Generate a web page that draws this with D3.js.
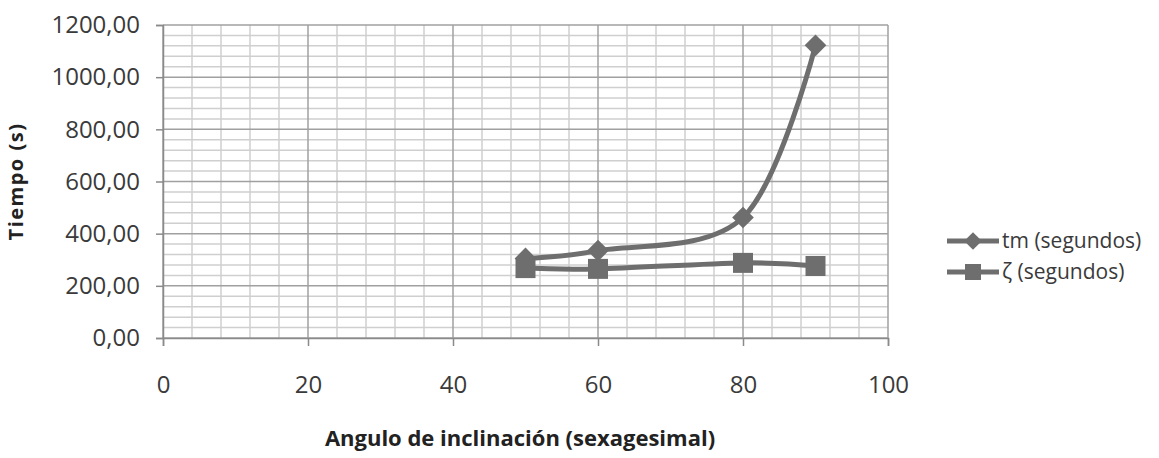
<!DOCTYPE html>
<html>
<head>
<meta charset="utf-8">
<script src="https://cdn.jsdelivr.net/npm/d3@7"></script>
<style>
  body { margin: 0; background: #fff; }
  svg { display: block; font-family: "Open Sans", sans-serif; }
</style>
</head>
<body>
<svg id="chart" width="1159" height="458"></svg>
<script>
// data
const angles = [50, 60, 80, 90];
const tm = [305, 335, 462, 1122];
const zeta = [268, 265, 288, 276];
const seriesNames = ["tm (segundos)", "ζ (segundos)"];
const yTicks = [0, 200, 400, 600, 800, 1000, 1200];
const xTicks = [0, 20, 40, 60, 80, 100];

const svg = d3.select("#chart");
const x = d3.scaleLinear().domain([0, 100]).range([163, 888]);
const y = d3.scaleLinear().domain([0, 1200]).range([338, 25]);
const lineColor = "#6e6e6e";

// grid: minor first, then major
const grid = svg.append("g").attr("id", "grid");
grid.selectAll("line.vminor")
  .data(d3.range(0, 101, 4).filter(d => d % 20 !== 0))
  .join("line")
  .attr("x1", d => x(d)).attr("x2", d => x(d))
  .attr("y1", y(0)).attr("y2", y(1200))
  .attr("stroke", "#cfcfcf").attr("stroke-width", 1.5);
grid.selectAll("line.hminor")
  .data(d3.range(0, 1201, 40).filter(d => d % 200 !== 0))
  .join("line")
  .attr("x1", x(0)).attr("x2", x(100))
  .attr("y1", d => y(d)).attr("y2", d => y(d))
  .attr("stroke", "#cfcfcf").attr("stroke-width", 1.5);
grid.selectAll("line.vmajor")
  .data(xTicks)
  .join("line")
  .attr("x1", d => x(d)).attr("x2", d => x(d))
  .attr("y1", y(0)).attr("y2", y(1200))
  .attr("stroke", "#a0a0a0").attr("stroke-width", 1.5);
grid.selectAll("line.hmajor")
  .data(yTicks)
  .join("line")
  .attr("x1", x(0)).attr("x2", x(100))
  .attr("y1", d => y(d)).attr("y2", d => y(d))
  .attr("stroke", "#a0a0a0").attr("stroke-width", 1.5);

// axes
const fmt = d => d3.format(".2f")(d).replace(".", ",");
const yAxis = svg.append("g")
  .attr("transform", `translate(${x(0)},0)`)
  .call(d3.axisLeft(y).tickValues(yTicks).tickFormat(fmt).tickSize(7).tickPadding(16));
const xAxis = svg.append("g")
  .attr("transform", `translate(0,${y(0)})`)
  .call(d3.axisBottom(x).tickValues(xTicks).tickSize(8).tickPadding(34));
[yAxis, xAxis].forEach(a => {
  a.select(".domain").attr("stroke", "#8a8a8a").attr("stroke-width", 1.5);
  a.selectAll(".tick line").attr("stroke", "#8a8a8a").attr("stroke-width", 1.5);
  a.selectAll("text").attr("fill", "#3a3a3a").style("font-size", "24px")
    .style("font-family", "'Open Sans', sans-serif");
});
xAxis.selectAll("text").attr("dy", "0.55em");

// axis titles
svg.append("text")
  .attr("transform", `translate(23,${(y(0) + y(1200)) / 2}) rotate(-90)`)
  .attr("text-anchor", "middle")
  .attr("fill", "#222").style("font-size", "20px").style("font-weight", "bold")
  .style("letter-spacing", "1.5px")
  .text("Tiempo (s)");
svg.append("text")
  .attr("x", 520).attr("y", 446)
  .attr("text-anchor", "middle")
  .attr("fill", "#222").style("font-size", "22px").style("font-weight", "bold")
  .text("Angulo de inclinación (sexagesimal)");

// series
const line = d3.line()
  .x((d, i) => x(angles[i]))
  .y(d => y(d))
  .curve(d3.curveCardinal.tension(0));

const diamond = d3.symbol().type(d3.symbolDiamond2).size(300);
const square = d3.symbol().type(d3.symbolSquare).size(400);

svg.append("path").datum(tm)
  .attr("d", line).attr("fill", "none")
  .attr("stroke", lineColor).attr("stroke-width", 5);
svg.append("path").datum(zeta)
  .attr("d", line).attr("fill", "none")
  .attr("stroke", lineColor).attr("stroke-width", 5);

svg.append("g").selectAll("path")
  .data(tm).join("path")
  .attr("transform", (d, i) => `translate(${x(angles[i])},${y(d)})`)
  .attr("d", diamond).attr("fill", lineColor);
svg.append("g").selectAll("path")
  .data(zeta).join("path")
  .attr("transform", (d, i) => `translate(${x(angles[i])},${y(d)})`)
  .attr("d", square).attr("fill", lineColor);

// legend
const legend = svg.append("g").attr("id", "legend");
const legY = [241, 272];
const legSyms = [d3.symbol().type(d3.symbolDiamond2).size(200), d3.symbol().type(d3.symbolSquare).size(256)];
seriesNames.forEach((name, i) => {
  const g = legend.append("g").attr("transform", `translate(947,${legY[i]})`);
  g.append("line").attr("x1", 0).attr("x2", 52)
    .attr("stroke", lineColor).attr("stroke-width", 5);
  g.append("path").attr("transform", "translate(26,0)")
    .attr("d", legSyms[i]).attr("fill", lineColor);
  g.append("text").attr("x", 55).attr("dy", "0.35em")
    .attr("fill", "#3a3a3a").style("font-size", "21px")
    .text(name);
});
</script>
</body>
</html>
